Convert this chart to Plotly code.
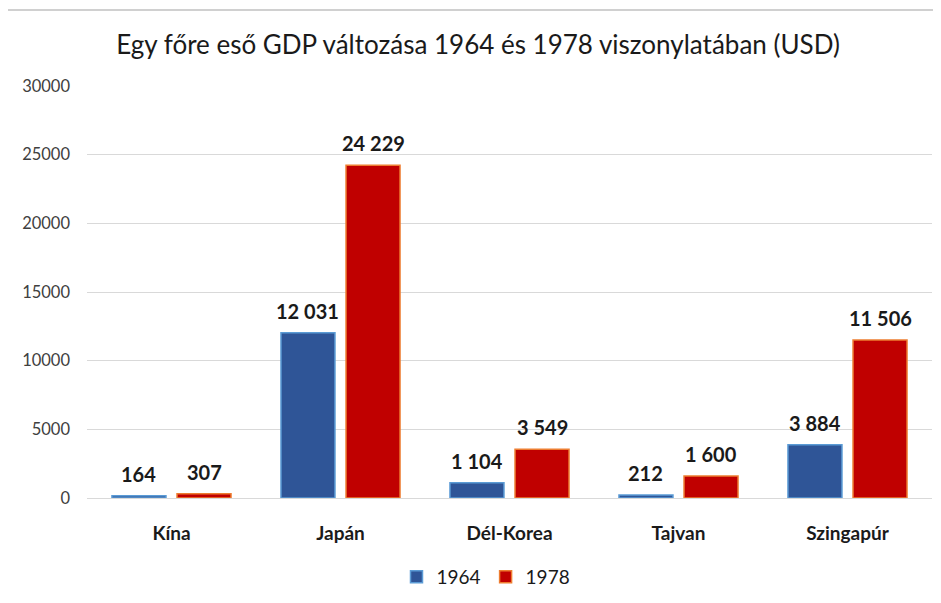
import plotly.graph_objects as go

categories = ["Kína", "Japán", "Dél-Korea", "Tajvan", "Szingapúr"]
values_1964 = [164, 12031, 1104, 212, 3884]
values_1978 = [307, 24229, 3549, 1600, 11506]
series_names = ["1964", "1978"]
title_text = "Egy főre eső GDP változása 1964 és 1978 viszonylatában (USD)"
y_ticks = [0, 5000, 10000, 15000, 20000, 25000, 30000]

def fmt(v):
    return f"{v:,}".replace(",", " ")

FONT = "Lato, Carlito, Calibri, sans-serif"
W, H = 933, 595
L, R, T, B = 79, 9, 78, 105
BARGAP, GROUPGAP = 0.23, 0.17
plot_w = W - L - R
slot_px = plot_w / len(categories) * (1 - BARGAP) / 2

fig = go.Figure()
fig.add_trace(go.Bar(
    x=categories, y=values_1964, name=series_names[0],
    marker=dict(color="#2F5597", line=dict(color="#5B9BD5", width=1.5)),
))
fig.add_trace(go.Bar(
    x=categories, y=values_1978, name=series_names[1],
    marker=dict(color="#C00000", line=dict(color="#ED7D31", width=1.5)),
))

annotations = []
for vals, sign in ((values_1964, -1), (values_1978, 1)):
    for c, v in zip(categories, vals):
        annotations.append(dict(
            x=c, y=v, xref="x", yref="y", text=fmt(v), showarrow=False,
            xshift=sign * slot_px / 2, yshift=22, yanchor="middle", xanchor="center",
            font=dict(family=FONT, size=20, color="#1a1a1a", weight="bold"),
        ))

fig.update_layout(
    width=W, height=H,
    margin=dict(l=L, r=R, t=T, b=B, autoexpand=False),
    paper_bgcolor="white", plot_bgcolor="white",
    barmode="group", bargap=BARGAP, bargroupgap=GROUPGAP,
    title=dict(text=title_text, x=(478 - 8) / W, xanchor="center", y=1 - 37 / H, yanchor="middle",
               font=dict(family=FONT, size=26, color="#1a1a1a")),
    font=dict(family=FONT),
    legend=dict(orientation="h", x=(486 - 8) / W, xref="container", xanchor="center",
                y=1 - (577 - 8) / H, yref="container", yanchor="middle",
                font=dict(family=FONT, size=19, color="#1a1a1a"),
                itemwidth=30, traceorder="normal"),
    xaxis=dict(tickfont=dict(family=FONT, size=19, color="#1a1a1a", weight="bold"),
               showline=True, linecolor="#D9D9D9", linewidth=1, ticks="", ticklabelstandoff=18,
               automargin=False),
    yaxis=dict(range=[0, 30000], tickvals=y_ticks, ticktext=[str(t) for t in y_ticks],
               showgrid=True, gridcolor="#D9D9D9", gridwidth=1, zeroline=False,
               tickfont=dict(family=FONT, size=16.5, color="#404040"), ticklabelstandoff=16,
               automargin=False),
    annotations=annotations,
    shapes=[dict(type="line", xref="paper", yref="paper",
                 x0=-L / plot_w, x1=1 + R / plot_w,
                 y0=1 + (T - 2) / (H - T - B), y1=1 + (T - 2) / (H - T - B),
                 line=dict(color="#D0D0D0", width=2), layer="above")],
)

fig.write_html("out.html")
